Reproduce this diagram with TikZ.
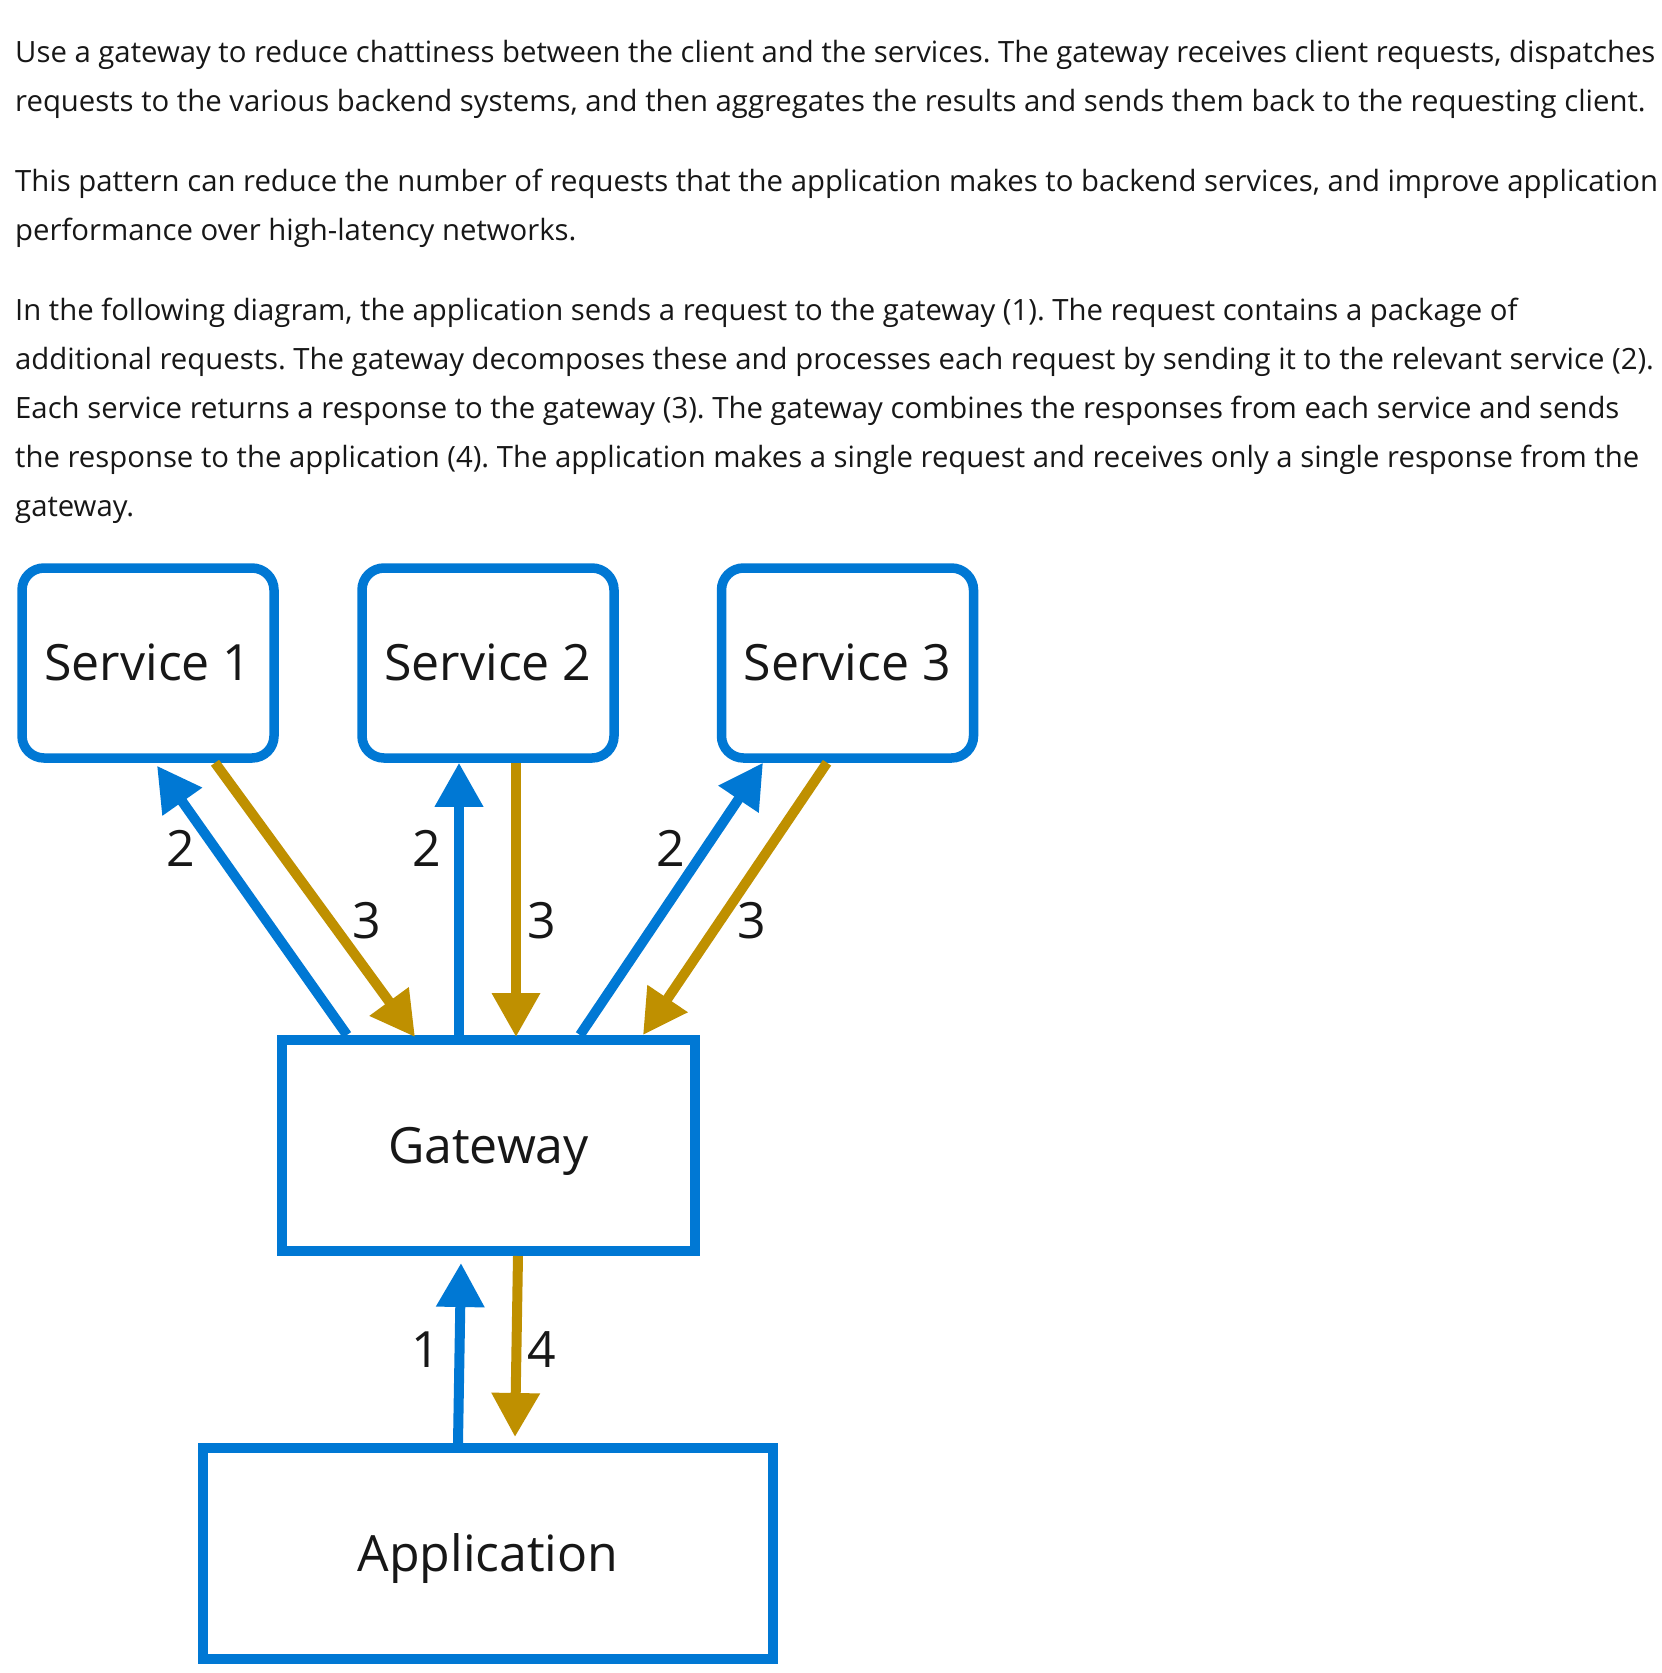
\documentclass[tikz,border=0pt]{standalone}
\usepackage{fontspec}
\setmainfont{Open Sans}
\usetikzlibrary{arrows.meta}
\definecolor{msblue}{HTML}{0078D4}
\definecolor{msgold}{HTML}{BF9000}
\definecolor{txt}{HTML}{171717}
\frenchspacing
\begin{document}
\begin{tikzpicture}[x=1pt,y=-1pt,
  svc/.style={draw=msblue, line width=9.5pt, rounded corners=22pt, minimum width=252pt, minimum height=190pt, inner sep=0pt, font=\fontsize{50}{50}\selectfont, text=txt, text height=35.7pt, text depth=0pt},
  blk/.style={draw=msblue, line width=10pt, inner sep=0pt, font=\fontsize{50}{50}\selectfont, text=txt, text height=35.7pt, text depth=0pt},
  req/.style={draw=msblue, line width=10pt, -{Triangle[length=44pt,width=46pt]}},
  rsp/.style={draw=msgold, line width=10pt, -{Triangle[length=44pt,width=46pt]}},
  num/.style={font=\fontsize{50}{50}\selectfont, text=txt, inner sep=0pt, text height=35.7pt, text depth=0pt},
  para/.style={anchor=base west, inner sep=0pt, font=\fontsize{29.3}{29.3}\selectfont\frenchspacing, text=txt}
]
\useasboundingbox (0,0) rectangle (1662,1673);
\fill[white] (0,0) rectangle (1662,1673);
% paragraphs
\node[para] (l1) at (15,62) {Use a gateway to reduce chattiness between the client and the services. The gateway receives client requests, dispatches};
\node[para] (l2) at (15,111) {requests to the various backend systems, and then aggregates the results and sends them back to the requesting client.};
\node[para] (l3) at (15,191) {This pattern can reduce the number of requests that the application makes to backend services, and improve application};
\node[para] (l4) at (15,240) {performance over high-latency networks.};
\node[para] (l5) at (15,320) {In the following diagram, the application sends a request to the gateway (1). The request contains a package of};
\node[para] (l6) at (15,369) {additional requests. The gateway decomposes these and processes each request by sending it to the relevant service (2).};
\node[para] (l7) at (15,418) {Each service returns a response to the gateway (3). The gateway combines the responses from each service and sends};
\node[para] (l8) at (15,467) {the response to the application (4). The application makes a single request and receives only a single response from the};
\node[para] (l9) at (15,516) {gateway.};
% boxes
\node[svc] (s1) at (148,663) {Service 1};
\node[svc] (s2) at (488,663) {Service 2};
\node[svc] (s3) at (847.5,663) {Service 3};
\node[blk, minimum width=413pt, minimum height=211pt] (gw) at (488.5,1145.5) {Gateway};
\node[blk, minimum width=570pt, minimum height=211pt] (app) at (488,1553.5) {Application};
% service 1
\draw[req] ([xshift=-141.5pt]gw.north) -- ([xshift=9pt,yshift=-3pt]s1.south);
\draw[rsp] ([xshift=67pt]s1.south) -- ([xshift=-73.5pt,yshift=-2pt]gw.north);
% service 2
\draw[req] ([xshift=-29.5pt]gw.north) -- ([xshift=-29pt]s2.south);
\draw[rsp] ([xshift=28pt]s2.south) -- ([xshift=27.5pt,yshift=-2pt]gw.north);
% service 3
\draw[req] ([xshift=91.5pt]gw.north) -- ([xshift=-84.5pt]s3.south);
\draw[rsp] ([xshift=-20.5pt]s3.south) -- ([xshift=154.5pt]gw.north);
% application
\draw[req] ([xshift=-30pt]app.north) -- ([xshift=-27.5pt,yshift=-7pt]gw.south);
\draw[rsp] ([xshift=29.5pt]gw.south) -- ([xshift=27pt,yshift=6pt]app.north);
% labels
\node[num] (n2a) at (181,849) {2};
\node[num] (n3a) at (367,921) {3};
\node[num] (n2b) at (427,849) {2};
\node[num] (n3b) at (542,921) {3};
\node[num] (n2c) at (671,849) {2};
\node[num] (n3c) at (752,921) {3};
\node[num] (n1) at (426,1350) {1};
\node[num] (n4) at (542,1350) {4};
\end{tikzpicture}
\end{document}
